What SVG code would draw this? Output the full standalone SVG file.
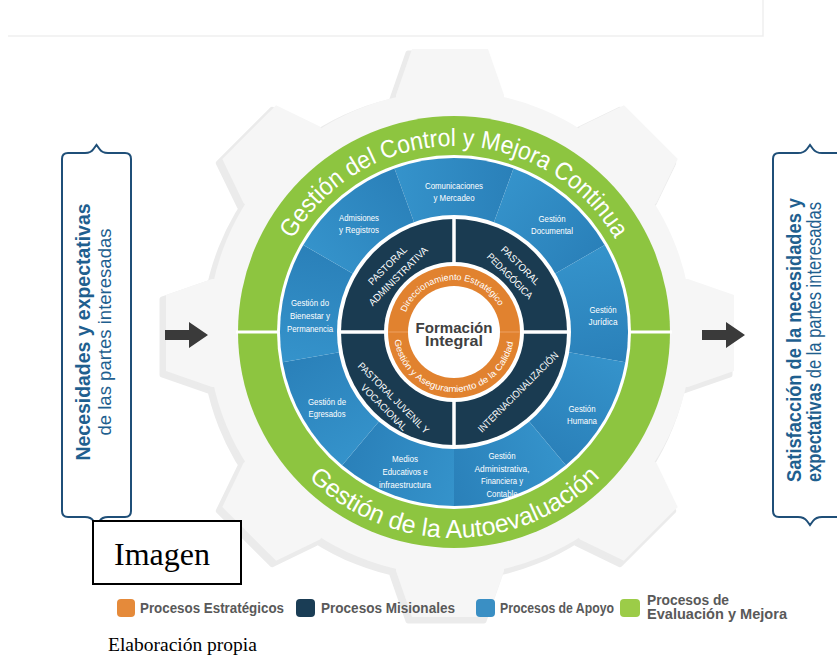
<svg xmlns="http://www.w3.org/2000/svg" width="837" height="657" viewBox="0 0 837 657">
<style>
text{font-family:"Liberation Sans",Arial,sans-serif}
.seg{fill:#fff;text-anchor:middle}
.nav{fill:#fff;text-anchor:middle}
.ring{fill:#fff}
.org{fill:#fff}
.box{fill:#1f5f8f}
.leg{fill:#595959;font-weight:bold}
.serif{font-family:"Liberation Serif","Times New Roman",serif;fill:#000}
.brace{fill:#fff;stroke:#1f4f78;stroke-width:2}
.arrow{fill:#3a3a3a}
</style>
<defs>
<polygon id="tooth" points="-54,-200 -54,-238 -38,-284 38,-284 54,-238 54,-200"/>
<linearGradient id="segGrad" x1="0" y1="0" x2="1" y2="0">
<stop offset="0" stop-color="#3593cb"/>
<stop offset="1" stop-color="#2a80b9"/>
</linearGradient>
<path id="seg" d="M0,0 L-59.51,-163.51 A174,174 0 0 1 59.51,-163.51 Z" fill="url(#segGrad)"/>
<path id="topArc" d="M268,332 A186,186 0 0 1 640,332" fill="none"/>
<path id="botArc" d="M248,332 A206,206 0 0 0 660,332" fill="none"/>
<path id="orgTop" d="M402,332 A52,52 0 0 1 506,332" fill="none"/>
<path id="orgBot" d="M394,332 A60,60 0 0 0 514,332" fill="none"/>
</defs>
<rect width="837" height="657" fill="#fff"/>
<path d="M8,36 H763 V0" stroke="#efefef" stroke-width="1.5" fill="none"/>

<g id="gear">
<g transform="translate(446,337)" fill="#ebebeb" stroke="#ebebeb" stroke-width="5" stroke-linejoin="round">
<circle r="242"/>
<use href="#tooth"/><use href="#tooth" transform="rotate(45)"/><use href="#tooth" transform="rotate(90)"/><use href="#tooth" transform="rotate(135)"/>
<use href="#tooth" transform="rotate(180)"/><use href="#tooth" transform="rotate(225)"/><use href="#tooth" transform="rotate(270)"/><use href="#tooth" transform="rotate(315)"/>
</g>
<g transform="translate(450,333)" fill="#f6f6f6">
<circle r="242"/>
<use href="#tooth"/><use href="#tooth" transform="rotate(45)"/><use href="#tooth" transform="rotate(90)"/><use href="#tooth" transform="rotate(135)"/>
<use href="#tooth" transform="rotate(180)"/><use href="#tooth" transform="rotate(225)"/><use href="#tooth" transform="rotate(270)"/><use href="#tooth" transform="rotate(315)"/>
</g>
</g>

<g id="ring-evaluacion">
<circle cx="454" cy="332" r="216" fill="#8dc540"/>
<circle cx="454" cy="332" r="177" fill="#fff"/>
<line x1="236" y1="332" x2="279" y2="332" stroke="#fff" stroke-width="3"/>
<line x1="629" y1="332" x2="672" y2="332" stroke="#fff" stroke-width="3"/>
<text class="ring" font-size="25"><textPath href="#topArc" startOffset="97" textLength="390" lengthAdjust="spacingAndGlyphs">Gestión del Control y Mejora Continua</textPath></text>
<text class="ring" font-size="25"><textPath href="#botArc" startOffset="162" textLength="324" lengthAdjust="spacingAndGlyphs">Gestión de la Autoevaluación</textPath></text>
</g>

<g id="ring-apoyo" transform="translate(454,332)">
<use href="#seg"/><use href="#seg" transform="rotate(40)"/><use href="#seg" transform="rotate(80)"/>
<use href="#seg" transform="rotate(120)"/><use href="#seg" transform="rotate(160)"/><use href="#seg" transform="rotate(200)"/>
<use href="#seg" transform="rotate(240)"/><use href="#seg" transform="rotate(280)"/><use href="#seg" transform="rotate(320)"/>
<circle r="117" fill="#fff"/>
</g>

<g id="apoyo-labels">
<g id="comunicaciones"><text class="seg" font-size="9" x="454" y="188.6" textLength="58" lengthAdjust="spacingAndGlyphs">Comunicaciones</text><text class="seg" font-size="9" x="454" y="201.4" textLength="41" lengthAdjust="spacingAndGlyphs">y Mercadeo</text></g>
<g id="admisiones"><text class="seg" font-size="9" x="359" y="220.6" textLength="40" lengthAdjust="spacingAndGlyphs">Admisiones</text><text class="seg" font-size="9" x="359" y="233.4" textLength="40" lengthAdjust="spacingAndGlyphs">y Registros</text></g>
<g id="documental"><text class="seg" font-size="9" x="552" y="221.6" textLength="27" lengthAdjust="spacingAndGlyphs">Gestión</text><text class="seg" font-size="9" x="552" y="234.4" textLength="42" lengthAdjust="spacingAndGlyphs">Documental</text></g>
<g id="bienestar"><text class="seg" font-size="9" x="310" y="306.2" textLength="38" lengthAdjust="spacingAndGlyphs">Gestión do</text><text class="seg" font-size="9" x="310" y="319" textLength="40" lengthAdjust="spacingAndGlyphs">Bienestar y</text><text class="seg" font-size="9" x="310" y="331.8" textLength="46" lengthAdjust="spacingAndGlyphs">Permanencia</text></g>
<g id="juridica"><text class="seg" font-size="9" x="603" y="312.6" textLength="27" lengthAdjust="spacingAndGlyphs">Gestión</text><text class="seg" font-size="9" x="603" y="325.4" textLength="29" lengthAdjust="spacingAndGlyphs">Jurídica</text></g>
<g id="egresados"><text class="seg" font-size="9" x="327" y="404.6" textLength="38" lengthAdjust="spacingAndGlyphs">Gestión de</text><text class="seg" font-size="9" x="327" y="417.4" textLength="37" lengthAdjust="spacingAndGlyphs">Egresados</text></g>
<g id="humana"><text class="seg" font-size="9" x="582" y="411.6" textLength="27" lengthAdjust="spacingAndGlyphs">Gestión</text><text class="seg" font-size="9" x="582" y="424.4" textLength="30" lengthAdjust="spacingAndGlyphs">Humana</text></g>
<g id="medios"><text class="seg" font-size="9" x="405" y="462.2" textLength="26" lengthAdjust="spacingAndGlyphs">Medios</text><text class="seg" font-size="9" x="405" y="475" textLength="45" lengthAdjust="spacingAndGlyphs">Educativos e</text><text class="seg" font-size="9" x="405" y="487.8" textLength="52" lengthAdjust="spacingAndGlyphs">infraestructura</text></g>
<g id="administrativa"><text class="seg" font-size="9" x="502" y="458.8" textLength="27" lengthAdjust="spacingAndGlyphs">Gestión</text><text class="seg" font-size="9" x="502" y="471.6" textLength="55" lengthAdjust="spacingAndGlyphs">Administrativa,</text><text class="seg" font-size="9" x="502" y="484.4" textLength="42" lengthAdjust="spacingAndGlyphs">Financiera y</text><text class="seg" font-size="9" x="502" y="497.2" textLength="31" lengthAdjust="spacingAndGlyphs">Contable</text></g>
</g>

<g id="ring-misionales">
<circle cx="454" cy="332" r="113" fill="#1a3b51"/>
<line x1="454" y1="217" x2="454" y2="447" stroke="#fff" stroke-width="3.5"/>
<line x1="339" y1="332" x2="569" y2="332" stroke="#fff" stroke-width="3.5"/>
<g id="pastoral-administrativa" transform="translate(392.8,270.8) rotate(-45)"><text class="nav" font-size="10" y="-4" textLength="50" lengthAdjust="spacingAndGlyphs">PASTORAL</text><text class="nav" font-size="10" y="11" textLength="79" lengthAdjust="spacingAndGlyphs">ADMINISTRATIVA</text></g>
<g id="pastoral-pedagogica" transform="translate(515.2,270.8) rotate(45)"><text class="nav" font-size="10" y="-4" textLength="50" lengthAdjust="spacingAndGlyphs">PASTORAL</text><text class="nav" font-size="10" y="11" textLength="60" lengthAdjust="spacingAndGlyphs">PEDAGÓGICA</text></g>
<g id="pastoral-juvenil" transform="translate(389,402.5) rotate(45)"><text class="nav" font-size="10" y="-3" textLength="96" lengthAdjust="spacingAndGlyphs">PASTORAL JUVENIL Y</text><text class="nav" font-size="10" y="10.5" textLength="61" lengthAdjust="spacingAndGlyphs">VOCACIONAL</text></g>
<g id="internacionalizacion" transform="translate(518,392) rotate(-45)"><text class="nav" font-size="10" y="3.5" textLength="109" lengthAdjust="spacingAndGlyphs">INTERNACIONALIZACIÓN</text></g>
</g>

<g id="ring-estrategicos">
<circle cx="454" cy="332" r="70" fill="#fff"/>
<circle cx="454" cy="332" r="66" fill="#e1822f"/>
<line x1="388" y1="332" x2="520" y2="332" stroke="#eea062" stroke-width="1.2"/>
<circle cx="454" cy="332" r="46" fill="#fff"/>
<text class="org" font-size="9"><textPath href="#orgTop" startOffset="20" textLength="116" lengthAdjust="spacingAndGlyphs">Direccionamiento Estratégico</textPath></text>
<text class="org" font-size="9"><textPath href="#orgBot" startOffset="8" textLength="170" lengthAdjust="spacingAndGlyphs">Gestión y Aseguramiento de la Calidad</textPath></text>
</g>

<g id="formacion-integral">
<text x="454" y="333" text-anchor="middle" font-size="15.5" font-weight="bold" fill="#404040" textLength="77" lengthAdjust="spacingAndGlyphs">Formación</text>
<text x="454" y="346" text-anchor="middle" font-size="15.5" font-weight="bold" fill="#404040" textLength="58" lengthAdjust="spacingAndGlyphs">Integral</text>
</g>

<g id="necesidades">
<path class="brace" d="M68,153 L85,153 Q91,153 93.5,149 L96.5,145 L99.5,149 Q102,153 108,153 L125,153 Q131,153 131,159 L131,511 Q131,517 125,517 L108,517 Q102,517 99.5,521 L96.5,525 L93.5,521 Q91,517 85,517 L68,517 Q62,517 62,511 L62,159 Q62,153 68,153 Z"/>
<text class="box" font-size="21" transform="translate(90,332) rotate(-90)" text-anchor="middle" font-weight="bold" textLength="257" lengthAdjust="spacingAndGlyphs">Necesidades y expectativas</text>
<text class="box" font-size="19" transform="translate(111,332) rotate(-90)" text-anchor="middle" textLength="207" lengthAdjust="spacingAndGlyphs">de las partes interesadas</text>
</g>

<g id="satisfaccion">
<path class="brace" d="M779,153 L798,153 Q804,153 807,149 L810,145 L813,149 Q816,153 822,153 L841,153 Q847,153 847,159 L847,511 Q847,517 841,517 L822,517 Q816,517 813,521 L810,525 L807,521 Q804,517 798,517 L779,517 Q773,517 773,511 L773,159 Q773,153 779,153 Z"/>
<text class="box" font-size="21" transform="translate(801,482) rotate(-90)" font-weight="bold" textLength="284" lengthAdjust="spacingAndGlyphs">Satisfacción de la necesidades y</text>
<text class="box" font-size="21" transform="translate(821,482) rotate(-90)" textLength="280" lengthAdjust="spacingAndGlyphs"><tspan font-weight="bold">expectativas</tspan> de la partes interesadas</text>
</g>

<g id="connectors">
<path class="arrow" d="M165,330 L189,330 L189,322 L208,335 L189,348 L189,340 L165,340 Z"/>
<path class="arrow" d="M702,330 L726,330 L726,322 L745,335 L726,348 L726,340 L702,340 Z"/>
</g>

<g id="imagen">
<rect x="93" y="521" width="148" height="63" fill="#fff" stroke="#000" stroke-width="2"/>
<text class="serif" x="114" y="565" font-size="32">Imagen</text>
</g>

<g id="legend">
<rect x="117" y="599" width="18" height="18" rx="4" fill="#e58a3a"/>
<text class="leg" font-size="14.5" x="140" y="613" textLength="144" lengthAdjust="spacingAndGlyphs">Procesos Estratégicos</text>
<rect x="296" y="599" width="19" height="18" rx="4" fill="#1a3d55"/>
<text class="leg" font-size="14.5" x="321" y="613" textLength="134" lengthAdjust="spacingAndGlyphs">Procesos Misionales</text>
<rect x="476" y="599" width="19" height="18" rx="4" fill="#3a8fc4"/>
<text class="leg" font-size="14.5" x="500" y="613" textLength="114" lengthAdjust="spacingAndGlyphs">Procesos de Apoyo</text>
<rect x="620" y="599" width="20" height="18" rx="4" fill="#9ccc48"/>
<text class="leg" font-size="14" x="647" y="605" textLength="82" lengthAdjust="spacingAndGlyphs">Procesos de</text>
<text class="leg" font-size="14" x="647" y="619" textLength="140" lengthAdjust="spacingAndGlyphs">Evaluación y Mejora</text>
</g>

<g id="caption">
<text class="serif" x="108" y="651" font-size="19.5">Elaboración propia</text>
</g>
</svg>
